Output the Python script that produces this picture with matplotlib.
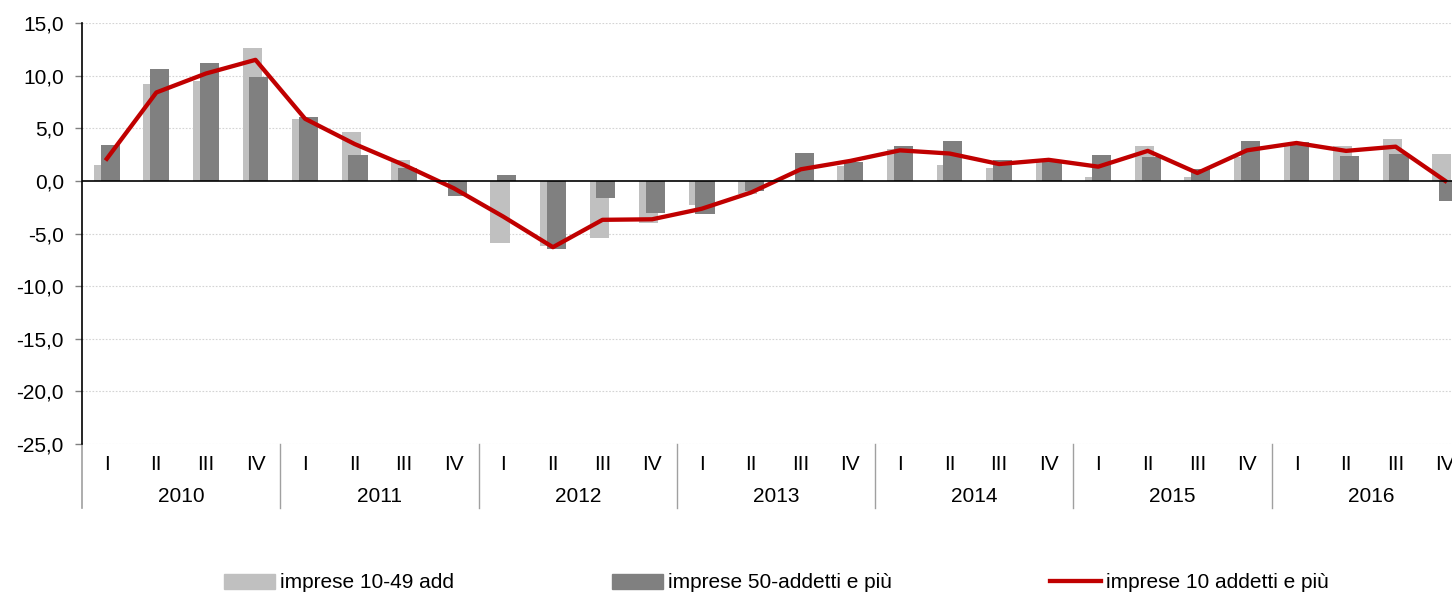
import matplotlib
matplotlib.use("Agg")
import matplotlib.pyplot as plt
import numpy as np
from matplotlib.lines import Line2D
from matplotlib.patches import Patch

plt.rcParams['font.family'] = ['Liberation Sans', 'DejaVu Sans']

years = ['2010', '2011', '2012', '2013', '2014', '2015', '2016']
quarters = ['I', 'II', 'III', 'IV']

small = [1.5, 9.2, 9.5, 12.6, 5.9, 4.6, 2.0, 0.1, -5.9, -6.2, -5.4, -4.0, -2.3, -1.2,
         0.0, 1.4, 3.0, 1.5, 1.2, 1.8, 0.35, 3.3, 0.4, 2.3, 3.5, 3.3, 4.0, 2.6]
large = [3.4, 10.6, 11.2, 9.9, 6.1, 2.5, 1.2, -1.4, 0.6, -6.5, -1.6, -3.05, -3.1, -1.0,
         2.65, 1.8, 3.3, 3.8, 2.0, 1.95, 2.5, 2.3, 1.1, 3.8, 3.7, 2.35, 2.6, -1.9]
total = [2.1, 8.4, 10.2, 11.5, 5.9, 3.5, 1.5, -0.7, -3.4, -6.3, -3.7, -3.65, -2.65, -1.1,
         1.1, 1.9, 2.9, 2.6, 1.6, 2.0, 1.35, 2.85, 0.75, 2.9, 3.6, 2.85, 3.25, 0.0]
labels = ['imprese 10-49 add', 'imprese 50-addetti e più', 'imprese 10 addetti e più']
yticks = [15, 10, 5, 0, -5, -10, -15, -20, -25]

FS = 15
W, H = 1452, 596
fig = plt.figure(figsize=(W / 100, H / 100), dpi=100)
left, right, top, bottom = 82, 1470, 23, 444
ax = fig.add_axes([left / W, 1 - bottom / H, (right - left) / W, (bottom - top) / H])

n = len(small)
x = np.arange(n) + 0.5
bw = 0.385
off = 0.067
c_small, c_large, c_line = '#c0c0c0', '#808080', '#c00000'

ax.bar(x - off, small, width=bw, color=c_small, zorder=2)
ax.bar(x + off, large, width=bw, color=c_large, zorder=3)
ax.plot(x, total, color=c_line, lw=3.1, zorder=4, solid_joinstyle='round')

ax.set_xlim(0, n)
ax.set_ylim(-25, 15)
ax.set_yticks(yticks)
ax.set_yticklabels([f"{v:.1f}".replace('.', ',') for v in yticks], fontsize=FS)
ax.tick_params(axis='y', direction='out', length=5, width=1, color='#808080', pad=8)
ax.set_xticks([])
for v in yticks:
    if v != 0:
        ax.axhline(v, color='#d4d4d4', lw=0.8, ls=(0, (1.5, 1.5)), zorder=1)
ax.axhline(0, color='black', lw=1.2, zorder=5)

for s in ['top', 'right', 'bottom']:
    ax.spines[s].set_visible(False)
ax.spines['left'].set_color('black')
ax.spines['left'].set_linewidth(1.2)

ph = bottom - top
y_ext = -(508 - bottom) / ph
trans = ax.get_xaxis_transform()
ax.add_line(Line2D([0, 0], [0, y_ext], transform=trans, color='#a0a0a0', lw=1.2, clip_on=False))
for k in range(1, len(years) + 1):
    ax.add_line(Line2D([4 * k, 4 * k], [0, y_ext], transform=trans, color='#a0a0a0', lw=1.0, clip_on=False))
for i in range(n):
    ax.text(x[i], -(464 - bottom) / ph, quarters[i % 4], transform=trans, ha='center', va='center', fontsize=FS)
for k, yr in enumerate(years):
    ax.text(4 * k + 2, -(496 - bottom) / ph, yr, transform=trans, ha='center', va='center', fontsize=FS)

handles = [Patch(color=c_small), Patch(color=c_large), Line2D([], [], color=c_line, lw=3.1)]
xs = [224, 612, 1050]
for h, lab, px in zip(handles, labels, xs):
    fig.legend([h], [lab], loc='center left', bbox_to_anchor=(px / W, 1 - 583 / H),
               frameon=False, borderpad=0, borderaxespad=0, handletextpad=0.25,
               handlelength=2.45, fontsize=FS)

fig.savefig('out.png', dpi=100)
